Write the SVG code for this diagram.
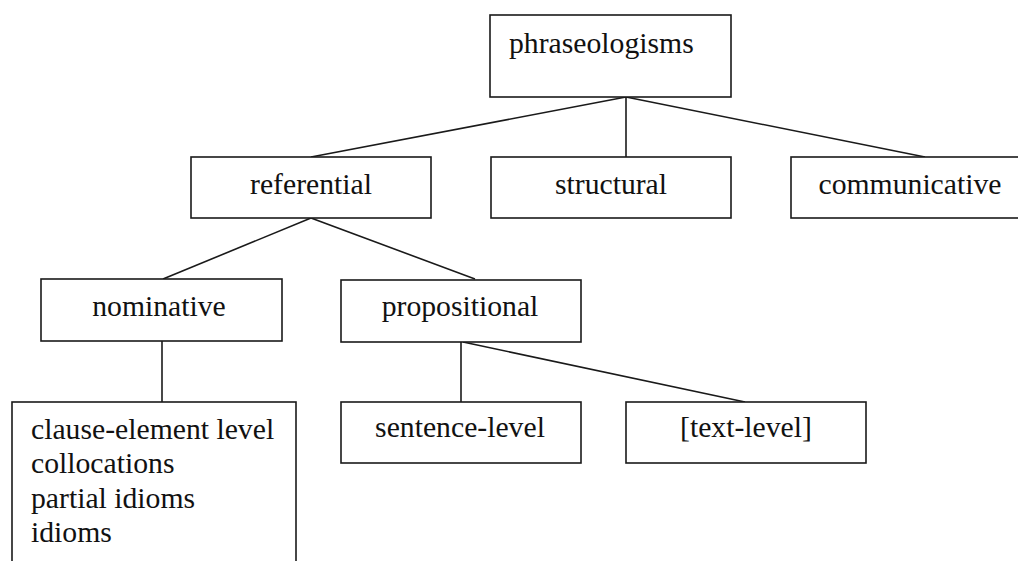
<svg xmlns="http://www.w3.org/2000/svg" width="1018" height="561" viewBox="0 0 1018 561">
  <style>
    .box { fill: #ffffff; stroke: #1a1a1a; stroke-width: 1.6; }
    .edge { fill: none; stroke: #1a1a1a; stroke-width: 1.6; }
    text { font-size: 29.7px; fill: #111111; }
    .mid { text-anchor: middle; }
  </style>
  <rect width="1018" height="561" fill="#ffffff"/>

  <!-- connectors -->
  <g id="connectors">
    <line class="edge" x1="626" y1="97" x2="311" y2="157"/>
    <line class="edge" x1="626" y1="97" x2="626" y2="157"/>
    <line class="edge" x1="626" y1="97" x2="925" y2="157"/>
    <line class="edge" x1="311" y1="218" x2="163" y2="279"/>
    <line class="edge" x1="311" y1="218" x2="475" y2="279"/>
    <line class="edge" x1="162" y1="341" x2="162" y2="402"/>
    <line class="edge" x1="461" y1="342" x2="461" y2="402"/>
    <line class="edge" x1="463" y1="342" x2="745" y2="402"/>
  </g>

  <g font-family="Liberation Serif, DejaVu Serif, serif">
  <g id="node-phraseologisms">
    <rect class="box" x="490" y="15" width="241" height="82"/>
    <text x="509" y="53">phraseologisms</text>
  </g>

  <g id="node-referential">
    <rect class="box" x="191" y="157" width="240" height="61"/>
    <text class="mid" x="311" y="194">referential</text>
  </g>

  <g id="node-structural">
    <rect class="box" x="491" y="157" width="240" height="61"/>
    <text class="mid" x="611" y="194">structural</text>
  </g>

  <g id="node-communicative">
    <rect class="box" x="791" y="157" width="240" height="61"/>
    <text class="mid" x="910" y="194">communicative</text>
  </g>

  <g id="node-nominative">
    <rect class="box" x="41" y="279" width="241" height="62"/>
    <text class="mid" x="159" y="316">nominative</text>
  </g>

  <g id="node-propositional">
    <rect class="box" x="341" y="280" width="240" height="62"/>
    <text class="mid" x="460" y="316">propositional</text>
  </g>

  <g id="node-clause-element">
    <rect class="box" x="12" y="402" width="284" height="170"/>
    <text x="31" y="439">clause-element level</text>
    <text x="31" y="473">collocations</text>
    <text x="31" y="508">partial idioms</text>
    <text x="31" y="542">idioms</text>
  </g>

  <g id="node-sentence-level">
    <rect class="box" x="341" y="402" width="240" height="61"/>
    <text class="mid" x="460" y="437">sentence-level</text>
  </g>

  <g id="node-text-level">
    <rect class="box" x="626" y="402" width="240" height="61"/>
    <text class="mid" x="746" y="437">[text-level]</text>
  </g>
  </g>
</svg>
